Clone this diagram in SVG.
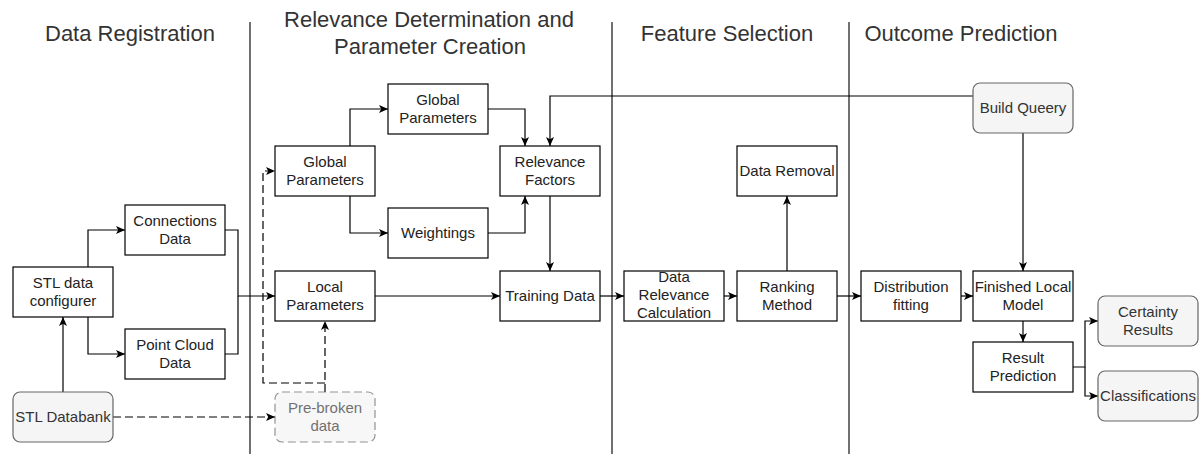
<svg xmlns="http://www.w3.org/2000/svg" width="1200" height="454" viewBox="0 0 1200 454">
<defs>
<marker id="arr" viewBox="0 0 10 8" refX="9" refY="4" markerWidth="10" markerHeight="8" markerUnits="userSpaceOnUse" orient="auto">
<path d="M0,0 L9,4 L0,8 L2.2,4 Z" fill="#000"/>
</marker>
</defs>
<style>
.box{fill:#fff;stroke:#000;stroke-width:1.2}
.gbox{fill:#f5f5f5;stroke:#666;stroke-width:1.2}
.dbox{fill:#f5f5f5;stroke:#666;stroke-width:1.2;stroke-dasharray:8 4}
.t{font-family:"Liberation Sans",Arial,sans-serif;font-size:15px;fill:#222;text-anchor:middle}
.gt{fill:#333}
.h{font-family:"Liberation Sans",Arial,sans-serif;font-size:22px;fill:#333;text-anchor:middle}
.c{fill:none;stroke:#000;stroke-width:1.2}
.d{stroke-dasharray:8 4}
.sep{stroke:#111;stroke-width:1.2}
</style>
<rect width="1200" height="454" fill="#fff"/>
<g id="separators">
<line class="sep" x1="250" y1="22" x2="250" y2="454"/>
<line class="sep" x1="612" y1="22" x2="612" y2="454"/>
<line class="sep" x1="849" y1="22" x2="849" y2="454"/>
</g>
<g id="headings">
<text class="h" x="130" y="41">Data Registration</text>
<text class="h" x="429" y="27">Relevance Determination and</text>
<text class="h" x="430" y="54">Parameter Creation</text>
<text class="h" x="727" y="41">Feature Selection</text>
<text class="h" x="961" y="41">Outcome Prediction</text>
</g>
<g id="connectors">
<path class="c" d="M63,392 V317" marker-end="url(#arr)"/>
<path class="c" d="M88,267 V230 H125" marker-end="url(#arr)"/>
<path class="c" d="M88,317 V354 H125" marker-end="url(#arr)"/>
<path class="c" d="M225,230 H238 V296 H275" marker-end="url(#arr)"/>
<path class="c" d="M225,354 H238 V296"/>
<path class="c d" d="M113,417 H275" marker-end="url(#arr)"/>
<path class="c d" d="M325,392 V321" marker-end="url(#arr)"/>
<path class="c d" d="M325,383 H263 V171 H275" marker-end="url(#arr)"/>
<path class="c" d="M350,146 V109 H388" marker-end="url(#arr)"/>
<path class="c" d="M350,196 V233 H388" marker-end="url(#arr)"/>
<path class="c" d="M488,109 H525 V146" marker-end="url(#arr)"/>
<path class="c" d="M488,233 H525 V196" marker-end="url(#arr)"/>
<path class="c" d="M973,96 H550 V146" marker-end="url(#arr)"/>
<path class="c" d="M550,196 V271" marker-end="url(#arr)"/>
<path class="c" d="M375,296 H500" marker-end="url(#arr)"/>
<path class="c" d="M600,296 H624" marker-end="url(#arr)"/>
<path class="c" d="M724,296 H737" marker-end="url(#arr)"/>
<path class="c" d="M787,271 V196" marker-end="url(#arr)"/>
<path class="c" d="M837,296 H861" marker-end="url(#arr)"/>
<path class="c" d="M961,296 H973" marker-end="url(#arr)"/>
<path class="c" d="M1023,133 V271" marker-end="url(#arr)"/>
<path class="c" d="M1023,321 V342" marker-end="url(#arr)"/>
<path class="c" d="M1073,367 H1085 V321 H1098" marker-end="url(#arr)"/>
<path class="c" d="M1085,367 V396 H1098" marker-end="url(#arr)"/>
</g>
<g id="stl-configurer"><rect class="box" x="13" y="267" width="100" height="50"/><text class="t" x="63" y="288">STL data</text><text class="t" x="63" y="306">configurer</text></g>
<g id="connections-data"><rect class="box" x="125" y="205" width="100" height="50"/><text class="t" x="175" y="226">Connections</text><text class="t" x="175" y="244">Data</text></g>
<g id="point-cloud"><rect class="box" x="125" y="329" width="100" height="50"/><text class="t" x="175" y="350">Point Cloud</text><text class="t" x="175" y="368">Data</text></g>
<g id="stl-databank"><rect class="gbox" x="13" y="392" width="100" height="50" rx="7"/><text class="t gt" x="63" y="422">STL Databank</text></g>
<g id="global-params-left"><rect class="box" x="275" y="146" width="100" height="50"/><text class="t" x="325" y="167">Global</text><text class="t" x="325" y="185">Parameters</text></g>
<g id="local-params"><rect class="box" x="275" y="271" width="100" height="50"/><text class="t" x="325" y="292">Local</text><text class="t" x="325" y="310">Parameters</text></g>
<g id="pre-broken" opacity="0.7"><rect class="dbox" x="275" y="392" width="100" height="50" rx="7"/><text class="t gt" x="325" y="413">Pre-broken</text><text class="t gt" x="325" y="431">data</text></g>
<g id="global-params-top"><rect class="box" x="388" y="84" width="100" height="50"/><text class="t" x="438" y="105">Global</text><text class="t" x="438" y="123">Parameters</text></g>
<g id="weightings"><rect class="box" x="388" y="208" width="100" height="50"/><text class="t" x="438" y="238">Weightings</text></g>
<g id="relevance-factors"><rect class="box" x="500" y="146" width="100" height="50"/><text class="t" x="550" y="167">Relevance</text><text class="t" x="550" y="185">Factors</text></g>
<g id="training-data"><rect class="box" x="500" y="271" width="100" height="50"/><text class="t" x="550" y="301">Training Data</text></g>
<g id="data-relevance"><rect class="box" x="624" y="271" width="100" height="50"/><text class="t" x="674" y="282">Data</text><text class="t" x="674" y="300">Relevance</text><text class="t" x="674" y="318">Calculation</text></g>
<g id="ranking"><rect class="box" x="737" y="271" width="100" height="50"/><text class="t" x="787" y="292">Ranking</text><text class="t" x="787" y="310">Method</text></g>
<g id="data-removal"><rect class="box" x="737" y="146" width="100" height="50"/><text class="t" x="787" y="176">Data Removal</text></g>
<g id="distribution"><rect class="box" x="861" y="271" width="100" height="50"/><text class="t" x="911" y="292">Distribution</text><text class="t" x="911" y="310">fitting</text></g>
<g id="finished-model"><rect class="box" x="973" y="271" width="100" height="50"/><text class="t" x="1023" y="292">Finished Local</text><text class="t" x="1023" y="310">Model</text></g>
<g id="result-prediction"><rect class="box" x="973" y="342" width="100" height="50"/><text class="t" x="1023" y="363">Result</text><text class="t" x="1023" y="381">Prediction</text></g>
<g id="build-query"><rect class="gbox" x="973" y="83" width="100" height="50" rx="7"/><text class="t gt" x="1023" y="113">Build Queery</text></g>
<g id="certainty"><rect class="gbox" x="1098" y="296" width="100" height="50" rx="7"/><text class="t gt" x="1148" y="317">Certainty</text><text class="t gt" x="1148" y="335">Results</text></g>
<g id="classifications"><rect class="gbox" x="1098" y="371" width="100" height="50" rx="7"/><text class="t gt" x="1148" y="401">Classifications</text></g>
</svg>
